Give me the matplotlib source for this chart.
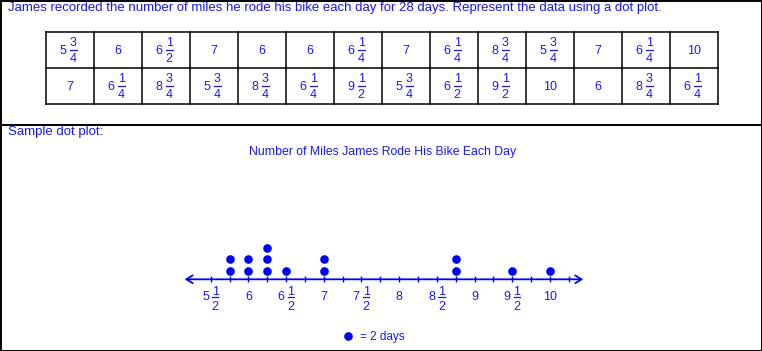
import matplotlib
matplotlib.use("Agg")
import matplotlib.pyplot as plt
from matplotlib.lines import Line2D

plt.rcParams['font.family'] = ['Liberation Sans', 'DejaVu Sans']

##### Data

heading = "James recorded the number of miles he rode his bike each day for 28 days. Represent the data using a dot plot."
row1 = ["5 3/4", "6", "6 1/2", "7", "6", "6", "6 1/4", "7", "6 1/4", "8 3/4", "5 3/4", "7", "6 1/4", "10"]
row2 = ["7", "6 1/4", "8 3/4", "5 3/4", "8 3/4", "6 1/4", "9 1/2", "5 3/4", "6 1/2", "9 1/2", "10", "6", "8 3/4", "6 1/4"]

sample_label = "Sample dot plot:"
plot_title = "Number of Miles James Rode His Bike Each Day"
dot_values = [5.75, 6, 6.25, 6.5, 7, 8.75, 9.5, 10]
dot_counts = [2, 2, 3, 1, 2, 2, 1, 1]
tick_values = [5.5 + 0.25 * i for i in range(20)]
label_values = [5.5, 6, 6.5, 7, 7.5, 8, 8.5, 9, 9.5, 10]
label_texts = ["5 1/2", "6", "6 1/2", "7", "7 1/2", "8", "8 1/2", "9", "9 1/2", "10"]
legend_label = "= 2 days"

blue = '#0000ff'
txt_blue = '#1a1af0'
fs = 9

W, H = 762, 351
fig = plt.figure(figsize=(W / 100, H / 100), dpi=100)

##### Background in pixel coordinates (borders, table, texts)

bg = fig.add_axes([0, 0, 1, 1])
bg.set_xlim(0, W)
bg.set_ylim(H, 0)
bg.axis('off')

bg.plot([0.5, W - 0.5, W - 0.5, 0.5, 0.5], [0.5, 0.5, H - 0.5, H - 0.5, 0.5], color='black', lw=1.4)
bg.plot([0, W], [124.5, 124.5], color='black', lw=1.4)

bg.text(8, 11.5, heading, fontsize=9.5, color=txt_blue, va='baseline', ha='left')
bg.text(8, 135.5, sample_label, fontsize=9.5, color=txt_blue, va='baseline', ha='left')
bg.text(382.5, 154.5, plot_title, fontsize=8.85, color=txt_blue, va='baseline', ha='center')


def mixed_px(xc, yc, s):
    # draws "w n/d" centred at (xc, yc) in the background pixel axes
    parts = s.split()
    if len(parts) == 1:
        bg.text(xc, yc + 4.5, parts[0], fontsize=fs, color=txt_blue, ha='center', va='baseline')
        return
    whole = parts[0]
    num, den = parts[1].split('/')
    bg.text(xc - 7.3, yc + 4.5, whole, fontsize=fs, color=txt_blue, ha='center', va='baseline')
    bg.text(xc + 3.3, yc - 8 + 4.5, num, fontsize=fs, color=txt_blue, ha='center', va='baseline')
    bg.text(xc + 3.3, yc + 8 + 4.5, den, fontsize=fs, color=txt_blue, ha='center', va='baseline')
    bg.plot([xc - 0.2, xc + 6.8], [yc, yc], color=txt_blue, lw=0.9)


tab_left, col_w = 46, 48
row_edges = [31.5, 67.5, 104]
ncol = len(row1)
for r in row_edges:
    bg.plot([tab_left, tab_left + col_w * ncol], [r, r], color='black', lw=1.1)
for c in range(ncol + 1):
    x = tab_left + c * col_w
    bg.plot([x, x], [row_edges[0], row_edges[-1]], color='black', lw=1.1)

for r, row in enumerate([row1, row2]):
    yc = (row_edges[r] + row_edges[r + 1]) / 2
    for c, s in enumerate(row):
        mixed_px(tab_left + c * col_w + col_w / 2, yc, s)

##### Dot plot

px_unit = 75.4          # pixels per mile
dot_step = 11.5         # pixels per stacked dot
x0, x1 = 4.75, 10.75
ax_left = 210.7 - (5.5 - x0) * px_unit
ax_top, ax_bot = 230, 330
line_px = 279.3
base = 0.25
ylo = base - (ax_bot - line_px) / dot_step
yhi = base + (line_px - ax_top) / dot_step

ax = fig.add_axes([ax_left / W, (H - ax_bot) / H, (x1 - x0) * px_unit / W, (ax_bot - ax_top) / H])
ax.set_xlim(x0, x1)
ax.set_ylim(ylo, yhi)
ax.axis('off')

ax.annotate('', xy=(10.44, base), xytext=(5.155, base),
            arrowprops=dict(arrowstyle='<->,head_length=0.45,head_width=0.28',
                            color=blue, lw=1.3, shrinkA=0, shrinkB=0))
ax.vlines(tick_values, base - 3 / dot_step, base + 3 / dot_step, color=blue, lw=1)

xs, ys = [], []
for v, n in zip(dot_values, dot_counts):
    for k in range(n):
        xs.append(v)
        ys.append(base + (8.7 + k * dot_step) / dot_step)
ax.plot(xs, ys, 'o', color=blue, markersize=6.2, markeredgewidth=0, linestyle='none')


def mixed_axis(v, s):
    parts = s.split()
    kw = dict(xycoords='data', textcoords='offset pixels', fontsize=fs, color=txt_blue,
              ha='center', va='baseline')
    if len(parts) == 1:
        ax.annotate(parts[0], xy=(v, base), xytext=(0, -16 - 4.5), **kw)
        return
    num, den = parts[1].split('/')
    ax.annotate(parts[0], xy=(v, base), xytext=(-5.2, -16 - 4.5), **kw)
    ax.annotate(num, xy=(v, base), xytext=(4.6, -11.5 - 4.5), **kw)
    ax.annotate(den, xy=(v, base), xytext=(4.6, -26 - 4.5), **kw)
    # fraction bar
    bar_y = base - 18 / dot_step
    ax.plot([v + 1.5 / px_unit, v + 7.7 / px_unit], [bar_y, bar_y], color=txt_blue, lw=0.9)


for v, s in zip(label_values, label_texts):
    mixed_axis(v, s)

handle = Line2D([], [], marker='o', linestyle='none', color=blue, markersize=6.2, markeredgewidth=0)
fig.legend(handles=[handle], labels=[legend_label], loc='center left',
           bbox_to_anchor=(342 / W, (H - 337.3) / H), frameon=False, fontsize=8.5,
           labelcolor=txt_blue, handlelength=1.06, handletextpad=0.45, borderpad=0, borderaxespad=0)

fig.savefig('out.png', dpi=100)
